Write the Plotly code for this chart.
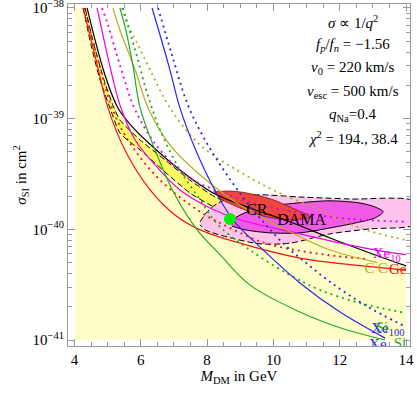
import plotly.graph_objects as go

# curves: mass in GeV, sigma in cm^2
mass_red = [4.26, 4.65, 5.01, 5.52, 6.28, 7.03, 7.79, 8.99, 10.80, 12.31, 14.0]
sigma_red = [1.0e-38, 3.39e-39, 1.25e-39, 5.21e-40, 2.27e-40, 1.35e-40, 9.9e-41, 7.5e-41, 5.5e-41, 4.8e-41, 4.3e-41]

mass_red_dot = [4.29, 4.71, 5.13, 5.67, 6.58, 7.79, 8.69, 9.75, 10.80, 11.86, 12.82]
sigma_red_dot = [1.0e-38, 3.39e-39, 1.25e-39, 6.03e-40, 2.79e-40, 1.44e-40, 1.03e-40, 7.5e-41, 6.4e-41, 5.75e-41, 5.4e-41]

mass_black = [4.38, 4.62, 4.92, 5.31, 5.83, 6.37, 7.18, 8.18, 9.29, 10.50, 11.71, 12.91, 14.0]
sigma_black = [1.0e-38, 5.14e-39, 2.48e-39, 1.25e-39, 7.91e-40, 5.55e-40, 3.44e-40, 2.13e-40,
               1.56e-40, 1.17e-40, 8.36e-41, 6.12e-41, 4.67e-41]

mass_xe10 = [4.68, 4.89, 5.13, 5.37, 5.83, 6.43, 7.18, 8.09, 8.99, 10.80, 12.31, 13.22, 14.0]
sigma_xe10 = [1.0e-38, 5.14e-39, 2.48e-39, 1.33e-39, 6.41e-40, 3.82e-40, 2.27e-40, 1.56e-40,
              1.22e-40, 9.1e-41, 7.2e-41, 6.4e-41, 5.9e-41]

mass_xe10_dot = [4.83, 5.01, 5.37, 5.83, 6.58, 7.48, 8.39, 9.60, 10.80, 12.31, 14.0]
sigma_xe10_dot = [1.0e-38, 7.02e-39, 3.05e-39, 1.2e-39, 5.21e-40, 2.91e-40, 2.18e-40, 1.66e-40,
                  1.41e-40, 1.24e-40, 1.17e-40]

mass_ge = [5.16, 5.37, 5.83, 6.22, 6.88, 7.79, 8.99, 10.50, 11.71, 13.13]
sigma_ge = [1.0e-38, 6.32e-39, 2.75e-39, 1.25e-39, 5.78e-40, 3.1e-40, 1.66e-40, 9.5e-41, 6.5e-41, 5.0e-41]

mass_ge_dot = [5.43, 5.61, 5.89, 6.28, 6.88, 7.79, 8.99, 10.11, 11.40, 12.61, 14.0]
sigma_ge_dot = [1.0e-38, 7.02e-39, 4.83e-39, 2.75e-39, 1.25e-39, 5.78e-40, 3.3e-40, 2.18e-40,
                1.5e-40, 1.03e-40, 8.0e-41]

mass_si = [5.37, 5.55, 5.76, 5.98, 6.43, 7.03, 7.70, 8.39, 9.29, 10.80, 12.01, 13.37]
sigma_si = [1.0e-38, 6.32e-39, 3.05e-39, 1.25e-39, 5.21e-40, 2.05e-40, 9.9e-41, 5.9e-41,
            3.15e-41, 1.79e-41, 1.29e-41, 1.0e-41]

mass_si_dot = [5.46, 5.83, 6.19, 6.58, 7.18, 7.79, 8.33, 9.29, 10.50, 11.40, 12.61, 13.97]
sigma_si_dot = [1.0e-38, 4.18e-39, 1.71e-39, 7.91e-40, 3.44e-40, 1.85e-40, 1.1e-40, 6.5e-41,
                3.87e-41, 2.84e-41, 2.16e-41, 1.76e-41]

mass_xe100 = [6.34, 6.58, 6.88, 7.18, 7.63, 8.15, 8.78, 9.60, 10.80, 12.01, 13.37]
sigma_xe100 = [1.0e-38, 5.7e-39, 2.75e-39, 1.25e-39, 5.43e-40, 2.52e-40, 1.22e-40, 6.9e-41,
               3.28e-41, 1.79e-41, 1.04e-41]

mass_xe100_dot = [6.52, 6.94, 7.42, 7.94, 8.54, 9.14, 9.69, 10.35, 10.95, 11.71, 12.76, 14.0]
sigma_xe100_dot = [1.0e-38, 3.76e-39, 1.33e-39, 6.41e-40, 3.3e-40, 1.85e-40, 1.17e-40, 7.2e-41,
                   5.07e-41, 3.35e-41, 2.07e-41, 1.31e-41]

# allowed regions
band_upper_mass = [4.32, 4.59, 4.89, 5.19, 5.37, 5.98, 6.73, 7.48, 8.24, 8.84]
band_upper_sigma = [1.0e-38, 4.63e-39, 2.24e-39, 1.25e-39, 9.72e-40, 6.41e-40, 4.24e-40, 2.79e-40, 1.96e-40, 1.66e-40]
band_lower_mass = [4.26, 4.50, 4.77, 5.07, 5.37, 5.98, 6.73, 7.48, 8.09, 8.54]
band_lower_sigma = [1.0e-38, 4.63e-39, 2.24e-39, 1.25e-39, 7.43e-40, 5.21e-40, 3.30e-40, 2.13e-40, 1.66e-40, 1.44e-40]

dama_outer_mass = [7.79, 8.00, 8.33, 8.84, 9.60, 10.80, 12.31, 14.3, 14.3, 12.91, 11.71, 10.50, 9.60, 8.69, 7.94, 7.79]
dama_outer_sigma = [1.17e-40, 1.44e-40, 1.73e-40, 1.96e-40, 2.05e-40, 1.96e-40, 1.88e-40, 1.77e-40,
                    1.12e-40, 1.01e-40, 9.1e-41, 7.5e-41, 7.4e-41, 8.4e-41, 9.9e-41, 1.1e-40]

dama_inner_mass = [8.63, 9.14, 9.75, 10.71, 11.71, 12.61, 13.07, 13.31, 13.07, 12.46, 11.71, 10.80, 9.90, 9.14, 8.75]
dama_inner_sigma = [1.17e-40, 1.41e-40, 1.59e-40, 1.73e-40, 1.81e-40, 1.73e-40, 1.59e-40, 1.44e-40,
                    1.27e-40, 1.14e-40, 1.03e-40, 9.3e-41, 9.3e-41, 9.9e-41, 1.07e-40]

cr_mass = [8.18, 8.69, 9.20, 9.99, 10.50, 11.10, 10.41, 9.69, 8.99, 8.39]
cr_sigma = [2.18e-40, 2.22e-40, 2.13e-40, 1.85e-40, 1.59e-40, 1.29e-40, 1.22e-40, 1.32e-40, 1.56e-40, 1.88e-40]

best_fit_mass = [8.69]
best_fit_sigma = [1.24e-40]

info_lines = [
    "<i>σ</i> ∝ 1/<i>q</i><sup>2</sup>",
    "<i>f<sub>p</sub></i>/<i>f<sub>n</sub></i> = −1.56",
    "<i>v</i><sub>0</sub> = 220 km/s",
    "<i>v</i><sub>esc</sub> = 500 km/s",
    "<i>q</i><sub>Na</sub>=0.4",
    "<i>χ</i><sup>2</sup> = 194., 38.4",
]

SERIF = "Liberation Serif, Times New Roman, serif"
RED = "rgb(240,20,20)"
MAGENTA = "rgb(235,0,235)"
OLIVE = "rgb(185,170,30)"
GREEN = "rgb(30,175,30)"
BLUE = "rgb(40,40,235)"
DOT = "2px,4px"

fig = go.Figure()

# excluded area below the black curve
fig.add_trace(go.Scatter(
    x=[4.0] + mass_black + [14.0, 4.0],
    y=[1.0e-38] + sigma_black + [1.0e-41, 1.0e-41],
    fill="toself", fillcolor="rgb(255,253,200)", mode="none"))

fig.add_trace(go.Scatter(
    x=band_upper_mass + band_lower_mass[::-1],
    y=band_upper_sigma + band_lower_sigma[::-1],
    fill="toself", fillcolor="rgb(255,250,95)", mode="lines",
    line=dict(color="black", width=1, dash="6px,3px", shape="spline", smoothing=0.6)))

fig.add_trace(go.Scatter(
    x=dama_outer_mass, y=dama_outer_sigma, fill="toself", fillcolor="rgba(255,190,235,0.9)",
    mode="lines", line=dict(color="black", width=1, dash="6px,3px", shape="spline", smoothing=0.8)))

fig.add_trace(go.Scatter(
    x=dama_inner_mass, y=dama_inner_sigma, fill="toself", fillcolor="rgb(240,90,230)",
    mode="lines", line=dict(color="black", width=1, shape="spline", smoothing=0.8)))

fig.add_trace(go.Scatter(
    x=cr_mass, y=cr_sigma, fill="toself", fillcolor="rgb(238,70,60)",
    mode="lines", line=dict(color="rgb(120,20,20)", width=0.8, shape="spline", smoothing=0.8)))

curves = [
    (mass_red, sigma_red, RED, None),
    (mass_red_dot, sigma_red_dot, RED, DOT),
    (mass_black, sigma_black, "black", None),
    (mass_xe10, sigma_xe10, MAGENTA, None),
    (mass_xe10_dot, sigma_xe10_dot, MAGENTA, DOT),
    (mass_ge, sigma_ge, OLIVE, None),
    (mass_ge_dot, sigma_ge_dot, OLIVE, DOT),
    (mass_si, sigma_si, GREEN, None),
    (mass_si_dot, sigma_si_dot, GREEN, DOT),
    (mass_xe100, sigma_xe100, BLUE, None),
    (mass_xe100_dot, sigma_xe100_dot, BLUE, DOT),
]
for xs, ys, col, dash in curves:
    fig.add_trace(go.Scatter(
        x=xs, y=ys, mode="lines",
        line=dict(color=col, width=1.8 if dash else 1.2, dash=dash or "solid", shape="spline")))

fig.add_trace(go.Scatter(
    x=best_fit_mass, y=best_fit_sigma, mode="markers",
    marker=dict(color="rgb(0,240,0)", size=12, line=dict(width=0))))

# curve labels
labels = [
    ("CR", 9.5, 1.45e-40, "black", 16),
    ("DAMA", 10.85, 1.2e-40, "black", 16),
    ("Xe<sub>10</sub>", 13.42, 5.9e-41, MAGENTA, 15),
    ("C", 12.9, 4.4e-41, OLIVE, 15),
    ("C", 13.3, 4.35e-41, OLIVE, 15),
    ("Ge", 13.75, 4.3e-41, RED, 15),
    ("Xe<sub>100</sub>", 13.45, 1.25e-41, BLUE, 15),
    ("Si", 13.27, 1.28e-41, GREEN, 15),
    ("Xe", 13.15, 9.0e-42, BLUE, 15),
    ("Si", 13.82, 9.1e-42, GREEN, 15),
]
for txt, lx, ly, col, size in labels:
    fig.add_trace(go.Scatter(
        x=[lx], y=[ly], mode="text", text=[txt], textposition="middle center",
        textfont=dict(family=SERIF, size=size, color=col), cliponaxis=True))

for i, line in enumerate(info_lines):
    fig.add_annotation(
        x=12.4, y=-38.126 - i * 0.21, xref="x", yref="y", text=line, showarrow=False,
        font=dict(family=SERIF, size=15, color="black"), xanchor="center", yanchor="middle")

minor_y = [k * 10.0 ** e for e in (-41, -40, -39) for k in range(2, 10)]

fig.update_layout(
    width=417, height=395,
    margin=dict(l=68, r=7, t=4, b=49, autoexpand=False),
    paper_bgcolor="white", plot_bgcolor="white",
    showlegend=False,
    font=dict(family=SERIF, size=15, color="black"),
    xaxis=dict(
        range=[3.804, 14.12], tick0=4, dtick=2, ticks="inside", ticklen=7,
        tickcolor="#999", showgrid=False, zeroline=False, automargin=False,
        showline=True, linecolor="#999", linewidth=1, mirror="allticks",
        ticklabeloverflow="allow",
        minor=dict(dtick=0.5, tick0=4, ticks="inside", ticklen=4, tickcolor="#999", showgrid=False),
        title=dict(text="<i>M</i><sub>DM</sub> in GeV", standoff=3, font=dict(size=15)),
        tickfont=dict(size=15),
    ),
    yaxis=dict(
        type="log", range=[-41.054, -37.964],
        tickvals=[1e-41, 1e-40, 1e-39, 1e-38],
        ticktext=["10<sup>−41</sup>", "10<sup>−40</sup>", "10<sup>−39</sup>", "10<sup>−38</sup>"],
        ticks="inside", ticklen=7, tickcolor="#999", showgrid=False, zeroline=False, automargin=False,
        showline=True, linecolor="#999", linewidth=1, mirror="allticks",
        ticklabeloverflow="allow",
        minor=dict(tickmode="array", tickvals=minor_y, ticks="inside", ticklen=4,
                   tickcolor="#999", showgrid=False),
        title=dict(text="<i>σ</i><sub>SI</sub> in cm<sup>2</sup>", standoff=2, font=dict(size=15)),
        tickfont=dict(size=15),
    ),
)

# the page body has a default 8px margin; drop it so the figure fills the window
fig.write_html("out.html", config={"displayModeBar": False},
               post_script="document.body.style.margin='0';")
